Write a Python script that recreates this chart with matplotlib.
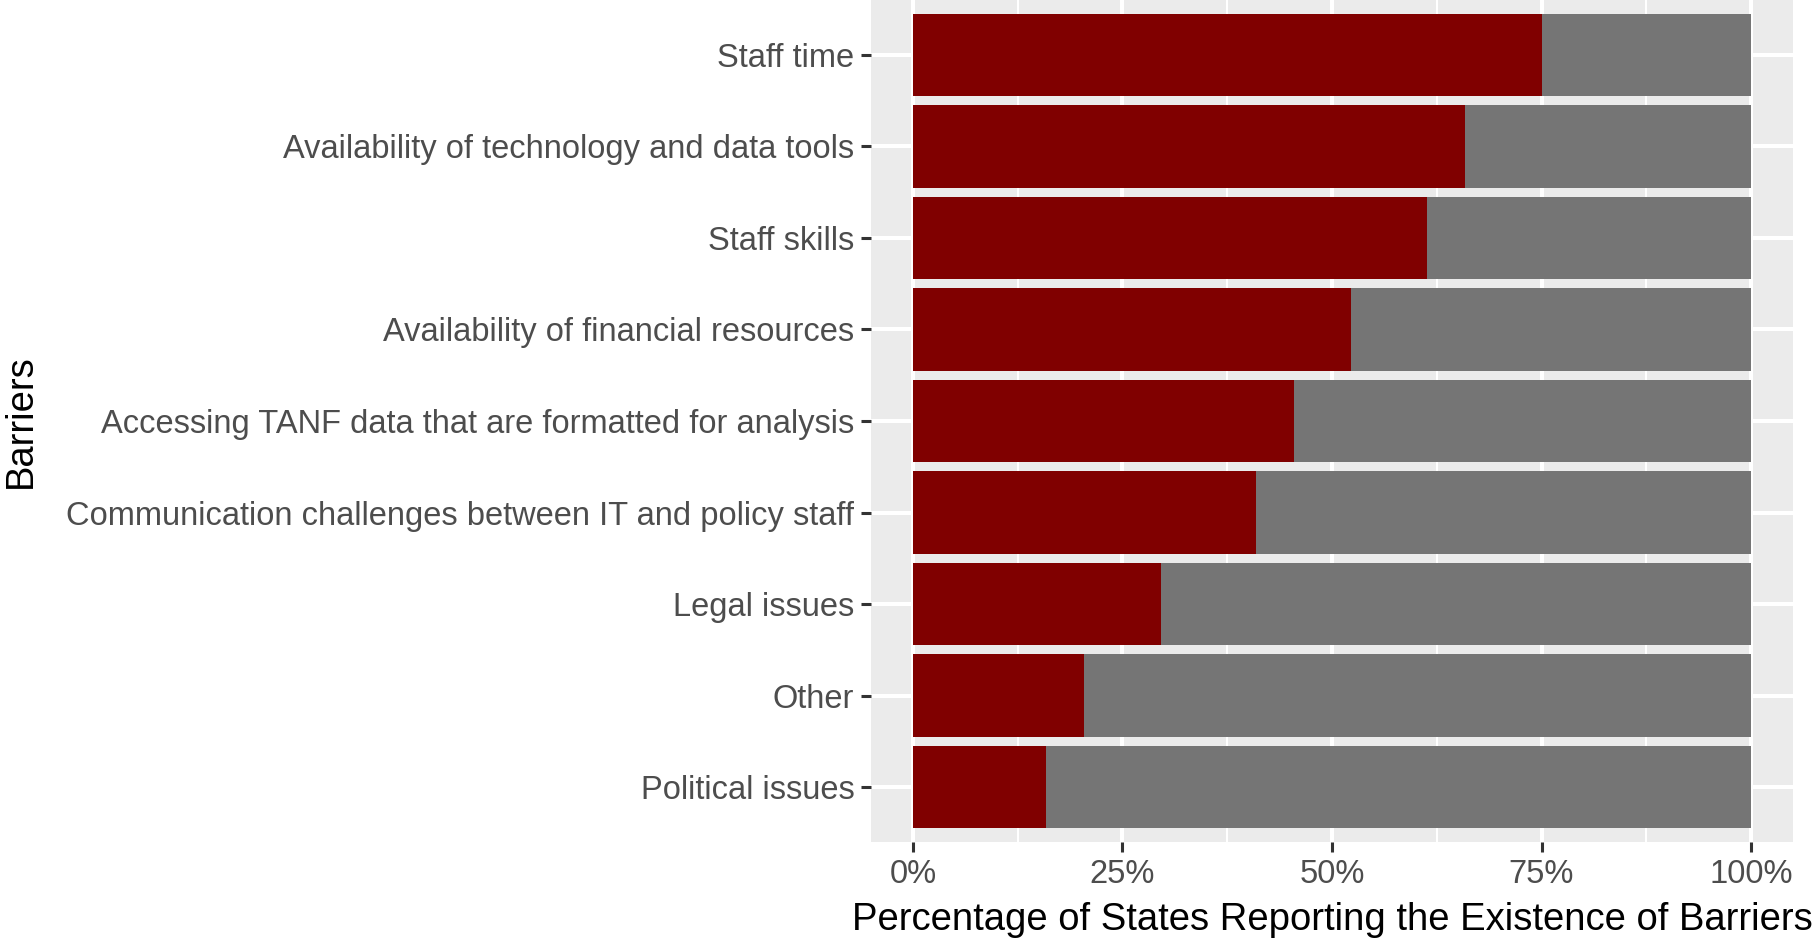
import matplotlib
matplotlib.use("Agg")
import matplotlib.pyplot as plt
from matplotlib.ticker import FixedLocator

plt.rcParams['font.family'] = ['Liberation Sans', 'DejaVu Sans']

# barriers listed top to bottom as in the chart
barriers = [
    'Staff time',
    'Availability of technology and data tools',
    'Staff skills',
    'Availability of financial resources',
    'Accessing TANF data that are formatted for analysis',
    'Communication challenges between IT and policy staff',
    'Legal issues',
    'Other',
    'Political issues',
]
# states reporting the barrier, out of 44 responding states
yes_count = [33, 29, 27, 23, 20, 18, 13, 9, 7]
total_states = 44

yes_share = [c / total_states for c in yes_count]
no_share = [1 - s for s in yes_share]

fig = plt.figure(figsize=(18.18, 9.44), dpi=100)
ax = fig.add_axes([871 / 1818, (944 - 842) / 944, (1793 - 871) / 1818, 842 / 944])
ax.set_facecolor('#EBEBEB')

ypos = list(range(len(barriers)))[::-1]
ax.barh(ypos, yes_share, height=0.9, color='#800000', zorder=3)
ax.barh(ypos, no_share, left=yes_share, height=0.9, color='#757575', zorder=3)

ax.set_xlim(-0.05, 1.05)
ax.set_ylim(-0.6, len(barriers) - 0.4)

ax.set_xticks([0, 0.25, 0.5, 0.75, 1.0])
ax.set_xticklabels(['0%', '25%', '50%', '75%', '100%'])
ax.xaxis.set_minor_locator(FixedLocator([0.125, 0.375, 0.625, 0.875]))
ax.set_yticks(ypos)
ax.set_yticklabels(barriers)

ax.grid(True, which='major', color='white', linewidth=2.9, zorder=1)
ax.grid(True, which='minor', axis='x', color='white', linewidth=1.45, zorder=1)

for s in ax.spines.values():
    s.set_visible(False)

ax.tick_params(axis='both', which='major', length=7, width=2.2, color='#333333',
               labelcolor='#4D4D4D', labelsize=23.5, pad=5)
ax.tick_params(axis='x', which='minor', length=0)

ax.set_xlabel('Percentage of States Reporting the Existence of Barriers',
              fontsize=27.5, color='black', labelpad=9)
ax.set_ylabel('Barriers', fontsize=27.5, color='black')
ax.yaxis.set_label_coords(-0.902, 0.5)

fig.savefig('out.png', dpi=100)
